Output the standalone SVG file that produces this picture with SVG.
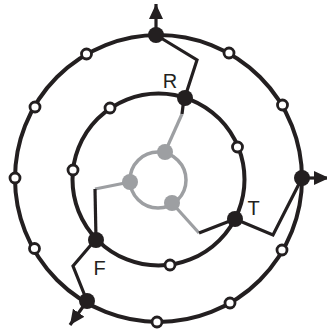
<svg xmlns="http://www.w3.org/2000/svg" width="327" height="332" viewBox="0 0 327 332">
  <style>
    .ring { fill: none; stroke: #231f20; stroke-width: 4; }
    .inner-ring { fill: none; stroke: #9d9fa2; stroke-width: 3.5; }
    .link { fill: none; stroke: #231f20; stroke-width: 3.2; stroke-linejoin: miter; }
    .glink { fill: none; stroke: #9d9fa2; stroke-width: 3.2; }
    .open { fill: #ffffff; stroke: #231f20; stroke-width: 2.8; }
    .solid { fill: #231f20; }
    .gray { fill: #9d9fa2; }
    .label { font-family: "Liberation Sans", Arial, sans-serif; font-size: 20px; fill: #231f20; text-anchor: middle; }
  </style>
  <defs>
    <marker id="head" markerUnits="userSpaceOnUse" markerWidth="15" markerHeight="14" viewBox="0 0 15 14" refX="15" refY="7" orient="auto">
      <path d="M0,0 L15,7 L0,14 Z" fill="#231f20"/>
    </marker>
  </defs>

  <!-- rings -->
  <g id="rings">
    <circle id="outer-ring" class="ring" cx="158.5" cy="178.5" r="143.5"/>
    <circle id="middle-ring" class="ring" cx="158.5" cy="179.5" r="86"/>
    <circle id="core-ring" class="inner-ring" cx="158" cy="180" r="28"/>
  </g>

  <!-- connectors -->
  <g id="connectors">
    <polyline class="glink" points="165,152 182,114"/>
    <polyline class="glink" points="130,182 95,189"/>
    <polyline class="glink" points="172,203 199,233"/>
    <polyline class="link" points="182,114 184,98"/>
    <polyline class="link" points="95,189 96,239"/>
    <polyline class="link" points="199,233 235,219"/>
    <polyline class="link" points="156,35 197,60 185,97"/>
    <polyline class="link" points="235,219 273,235 302,178"/>
    <polyline class="link" points="96,239 73,266 87,301"/>
    <line class="link" x1="156" y1="35" x2="156" y2="4" marker-end="url(#head)"/>
    <line class="link" x1="302" y1="178" x2="329" y2="178" marker-end="url(#head)"/>
    <line class="link" x1="87" y1="301" x2="70" y2="325" marker-end="url(#head)"/>
  </g>

  <!-- outer ring nodes -->
  <g id="outer-nodes">
    <circle id="o-top" class="solid" cx="156" cy="35" r="8"/>
    <circle id="o-right" class="solid" cx="302" cy="178" r="8"/>
    <circle id="o-bottom-left" class="solid" cx="87" cy="301" r="8"/>
    <circle class="open" cx="229" cy="53" r="5"/>
    <circle class="open" cx="282.5" cy="105" r="5"/>
    <circle class="open" cx="282" cy="250" r="5"/>
    <circle class="open" cx="230" cy="303" r="5"/>
    <circle class="open" cx="157" cy="322" r="5"/>
    <circle class="open" cx="34.5" cy="248.5" r="5"/>
    <circle class="open" cx="15" cy="178" r="5"/>
    <circle class="open" cx="35" cy="107" r="5"/>
    <circle class="open" cx="86.5" cy="54" r="5"/>
  </g>

  <!-- middle ring nodes -->
  <g id="node-R">
    <circle class="solid" cx="185" cy="98" r="8"/>
    <text class="label" x="170" y="88">R</text>
  </g>
  <g id="node-T">
    <circle class="solid" cx="235" cy="219" r="8"/>
    <text class="label" x="253.5" y="215">T</text>
  </g>
  <g id="node-F">
    <circle class="solid" cx="96" cy="240" r="8"/>
    <text class="label" x="99.5" y="275">F</text>
  </g>
  <g id="middle-open-nodes">
    <circle class="open" cx="110" cy="108" r="5"/>
    <circle class="open" cx="237.5" cy="147" r="5"/>
    <circle class="open" cx="170" cy="265" r="5"/>
    <circle class="open" cx="73" cy="170" r="5"/>
  </g>

  <!-- core nodes -->
  <g id="core-nodes">
    <circle class="gray" cx="165" cy="152" r="8"/>
    <circle class="gray" cx="130" cy="182" r="8"/>
    <circle class="gray" cx="172" cy="203" r="8"/>
  </g>
</svg>
